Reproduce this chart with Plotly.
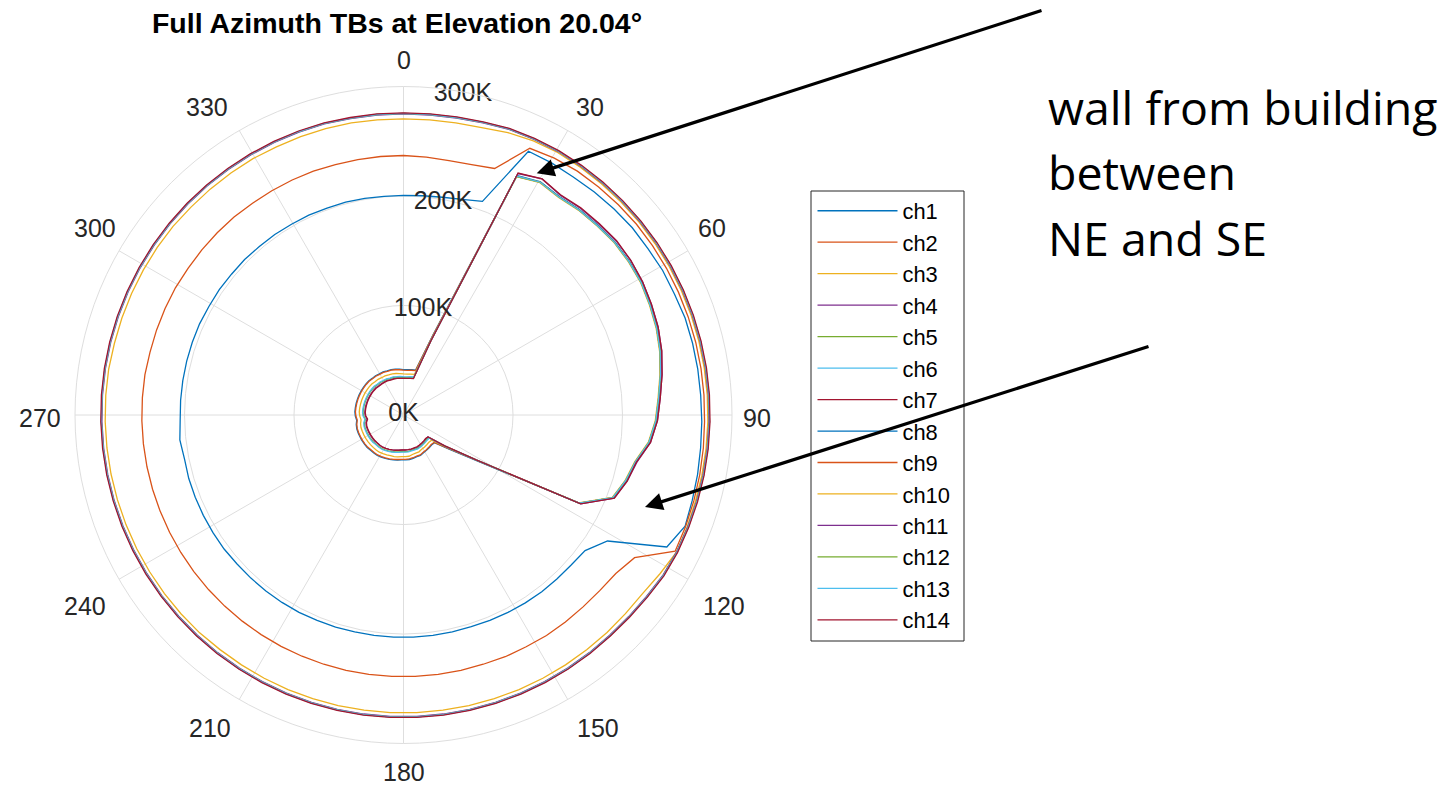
import plotly.graph_objects as go

# ---------------- data ----------------
AZIMUTH_DEG = [0.0, 5.07, 10.14, 15.21, 20.28, 25.35, 30.42, 35.49, 40.56, 45.63,
               50.70, 55.77, 60.85, 65.92, 70.99, 76.06, 81.13, 86.20, 91.27, 96.34,
               101.41, 106.48, 111.55, 116.62, 121.69, 126.76, 131.83, 136.90, 141.97, 147.04,
               152.11, 157.18, 162.25, 167.32, 172.39, 177.46, 182.54, 187.61, 192.68, 197.75,
               202.82, 207.89, 212.96, 218.03, 223.10, 228.17, 233.24, 238.31, 243.38, 248.45,
               253.52, 258.59, 263.66, 268.73, 273.80, 278.87, 283.94, 289.01, 294.08, 299.15,
               304.23, 309.30, 314.37, 319.44, 324.51, 329.58, 334.65, 339.72, 344.79, 349.86,
               354.93, 360.0]

CHANNEL_NAMES = ["ch1", "ch2", "ch3", "ch4", "ch5", "ch6", "ch7",
                 "ch8", "ch9", "ch10", "ch11", "ch12", "ch13", "ch14"]

TB_CH1 = [41.5, 41.5, 42, 42.5, 78, 242, 247, 245, 247, 248,
          249.5, 249.5, 249, 247, 245, 242, 238, 234, 231, 226,
          216.5, 212, 206, 180, 81, 52, 38, 37.5, 38, 38.5,
          39, 40, 40, 40.5, 41, 41, 41, 41.5, 42, 42.5,
          43, 43.5, 44, 44, 44, 44.5, 44.5, 44.5, 44.5, 44.5,
          44.5, 44, 43, 44, 44.5, 44.5, 44.5, 44.5, 44.5, 44.5,
          44.5, 44.5, 44.5, 44, 44, 43.5, 43.5, 43, 43, 42.5,
          42, 41.5]
TB_CH2 = [41, 41, 41.5, 42, 77, 241.5, 246.5, 244.5, 246.5, 247.5,
          249, 249, 248.5, 246.5, 244.5, 241.5, 237.5, 233.5, 230.5, 225.5,
          216, 211.5, 205.5, 179.5, 80, 51, 37.5, 37, 37.5, 38,
          38.5, 39.5, 39.5, 40, 40.5, 40.5, 40.5, 41, 41.5, 42,
          42.5, 43, 43.5, 43.5, 43.5, 44, 44, 44, 44, 44,
          44, 43.5, 42.5, 43.5, 44, 44, 44, 44, 44, 44,
          44, 44, 44, 43.5, 43.5, 43, 43, 42.5, 42.5, 42,
          41.5, 41]
TB_CH3 = [37.5, 37.5, 38, 38.5, 75, 241, 246, 244, 246, 247,
          248.5, 248.5, 248, 246, 244, 241, 237, 233, 230, 225,
          215.5, 211, 205, 179, 78, 49, 34.5, 34, 34.5, 35,
          35.5, 36.5, 36.5, 37, 38, 38, 38, 38.5, 39, 39,
          39.5, 40, 40.5, 40.5, 40.5, 40.5, 40.5, 40.5, 40.5, 40.5,
          40.5, 40, 39, 40, 40.5, 40.5, 40.5, 40.5, 40.5, 40.5,
          40.5, 40.5, 40.5, 40, 40, 39.5, 39.5, 39, 39, 38.5,
          38, 37.5]
TB_CH4 = [34, 34, 34.5, 35, 72, 244, 250, 246.5, 248.5, 249.5,
          251, 251, 250, 248, 246, 243, 239, 235, 232, 227,
          217.5, 213, 207, 181, 78, 47, 30, 30, 30.5, 31,
          31.5, 32, 32, 32, 32, 32, 32, 32.5, 33, 33.5,
          34, 34.5, 35, 35, 35, 35.5, 35.5, 35.5, 35.5, 35.5,
          35.5, 35, 33.5, 35, 35.5, 35.5, 35.5, 35.5, 35.5, 35.5,
          35.5, 35.5, 35.5, 35, 35, 35, 35, 34.5, 34.5, 34.5,
          34, 34]
TB_CH5 = [34.5, 34.5, 35, 35.5, 73, 241, 246.5, 244.5, 246.5, 247.5,
          249, 249, 248.5, 246.5, 244.5, 241.5, 237.5, 233.5, 230.5, 225.5,
          216, 211.5, 205.5, 179.5, 79, 48, 31, 31, 31.5, 32,
          32.5, 33, 33, 33, 33.5, 33.5, 33.5, 34, 34.5, 35,
          35.5, 36, 36.5, 36.5, 36.5, 37, 37, 37, 37, 37,
          37, 36.5, 35, 36.5, 37, 37, 37, 37, 37, 37,
          37, 37, 37, 36.5, 36.5, 36, 36, 35.5, 35.5, 35,
          35, 34.5]
TB_CH6 = [35, 35, 35.5, 36, 73, 241.5, 246.5, 244.5, 246.5, 247.5,
          249, 249, 248.5, 246.5, 244.5, 241.5, 237.5, 233.5, 230.5, 225.5,
          216, 211.5, 205.5, 179.5, 79, 48.5, 31.5, 31.5, 32, 32.5,
          33, 33.5, 33.5, 33.5, 34, 34, 34, 34.5, 35, 35.5,
          36, 36.5, 37, 37, 37, 37.5, 37.5, 37.5, 37.5, 37.5,
          37.5, 37, 35.5, 37, 37.5, 37.5, 37.5, 37.5, 37.5, 37.5,
          37.5, 37.5, 37.5, 37, 37, 36.5, 36.5, 36, 36, 35.5,
          35.5, 35]
TB_CH7 = [33.5, 33.5, 34, 34.5, 72, 244.5, 250, 247, 249, 250,
          251.5, 251, 250, 248, 246, 243, 239, 235, 232, 227,
          217, 213, 207, 181, 78, 47, 30, 29.5, 30, 30.5,
          31, 31.5, 31.5, 32, 32, 32, 32, 32.5, 33, 33.5,
          34, 34.5, 35, 35, 35, 35, 35, 35, 35, 35,
          35, 34.5, 33, 34.5, 35, 35, 35, 35, 35, 35,
          35, 35, 35, 34.5, 34.5, 34.5, 34.5, 34, 34, 34,
          33.5, 33.5]
TB_CH8 = [200.5, 201, 202, 204, 208, 266.5, 267, 267, 268, 269,
          270, 270, 271, 271, 272, 272, 272, 272, 272.5, 273,
          274, 275, 276.5, 269, 219, 207, 205.5, 205, 205, 204.5,
          204, 203.5, 203, 203, 203, 203, 203, 203, 203, 203.5,
          203.5, 204, 204, 204, 204, 204, 204.5, 204.5, 204.5, 204.5,
          204.5, 204, 205.5, 204, 204, 204, 204, 204, 204, 203.5,
          203.5, 203, 203, 202.5, 202.5, 202, 202, 201.5, 201.5, 201,
          200.5, 200.5]
TB_CH9 = [237, 236.5, 236, 237, 240, 269.5, 272, 273.5, 274, 274.5,
          275, 275, 275, 275, 275, 275, 275, 275, 275, 275.5,
          276, 276.5, 277, 277.5, 248, 242, 240.5, 240, 240, 240,
          239.5, 239.5, 239, 239, 239, 239, 239, 239, 239, 239,
          239, 239, 239, 239, 239, 239, 239, 239, 239, 239,
          239, 239, 239, 239, 239, 239, 238.5, 238.5, 238.5, 238.5,
          238, 238, 238, 238, 237.5, 237.5, 237.5, 237.5, 237, 237,
          237, 237]
TB_CH10 = [270.5, 270.5, 271, 272, 275, 277, 278, 278, 278, 278,
           278, 278, 278, 278, 278, 278, 278, 278, 278, 278,
           278, 278, 278.5, 279, 275.5, 272.5, 272, 272, 272, 272,
           272, 272, 272, 272, 272, 272, 272, 272, 272, 272,
           272, 272, 272, 272, 272.5, 272.5, 272.5, 272.5, 272.5, 272.5,
           272.5, 272.5, 272.5, 272.5, 272.5, 272.5, 272, 272, 272, 272,
           272, 272, 271.5, 271.5, 271.5, 271.5, 271, 271, 271, 271,
           270.5, 270.5]
TB_CH11 = [275, 275, 275.5, 276.5, 278, 278.5, 279, 279, 279, 279,
           279, 279, 279, 279, 279, 279, 279, 279, 279, 279,
           279, 279, 279, 279, 278.5, 277, 276, 275.5, 275.5, 275.5,
           275.5, 275.5, 275.5, 275.5, 275.5, 275.5, 275.5, 275.5, 275.5, 275.5,
           275.5, 275.5, 275.5, 275.5, 275.5, 275.5, 275.5, 275.5, 275.5, 275.5,
           275.5, 275.5, 275.5, 275.5, 275.5, 275.5, 275.5, 275.5, 275.5, 275.5,
           275.5, 275.5, 275.5, 275.5, 275.5, 275.5, 275.5, 275.5, 275.5, 275,
           275, 275]
TB_CH12 = [275.5, 275.5, 276, 277, 278.5, 279, 279.5, 279.5, 279.5, 279.5,
           279.5, 279.5, 279.5, 279.5, 279.5, 279.5, 279.5, 279.5, 279.5, 279.5,
           279.5, 279.5, 279.5, 279.5, 279, 277.5, 276.5, 276, 276, 276,
           276, 276, 276, 276, 276, 276, 276, 276, 276, 276,
           276, 276, 276, 276, 276, 276, 276, 276, 276, 276,
           276, 276, 276, 276, 276, 276, 276, 276, 276, 276,
           276, 276, 276, 276, 276, 276, 276, 276, 276, 275.5,
           275.5, 275.5]
TB_CH13 = [275.5, 275.5, 276, 277, 278.5, 279, 279.5, 279.5, 279.5, 279.5,
           279.5, 279.5, 279.5, 279.5, 279.5, 279.5, 279.5, 279.5, 279.5, 279.5,
           279.5, 279.5, 279.5, 279.5, 279, 277.5, 276.5, 276, 276, 276,
           276, 276, 276, 276, 276, 276, 276, 276, 276, 276,
           276, 276, 276, 276, 276, 276, 276, 276, 276, 276,
           276, 276, 276, 276, 276, 276, 276, 276, 276, 276,
           276, 276, 276, 276, 276, 276, 276, 276, 276, 275.5,
           275.5, 275.5]
TB_CH14 = [276, 276, 276.5, 277.5, 279, 279.5, 280, 280, 280, 280,
           280, 280, 280, 280, 280, 280, 280, 280, 280, 280,
           280, 280, 280, 280, 279.5, 278, 277, 276.5, 276.5, 276.5,
           276.5, 276.5, 276.5, 276.5, 276.5, 276.5, 276.5, 276.5, 276.5, 276.5,
           276.5, 276.5, 276.5, 276.5, 276.5, 276.5, 276.5, 276.5, 276.5, 276.5,
           276.5, 276.5, 276.5, 276.5, 276.5, 276.5, 276.5, 276.5, 276.5, 276.5,
           276.5, 276.5, 276.5, 276.5, 276.5, 276.5, 276.5, 276.5, 276.5, 276,
           276, 276]

THETA_TICKS = [0, 30, 60, 90, 120, 150, 180, 210, 240, 270, 300, 330]
THETA_TICK_TEXT = ["0", "30", "60", "90", "120", "150", "180", "210", "240", "270", "300", "330"]
R_TICKS = [0, 100, 200, 300]
R_TICK_TEXT = ["0K", "100K", "200K", "300K"]

TITLE = "Full Azimuth TBs at Elevation 20.04°"
NOTE_LINES = ["wall from building", "between", "NE and SE"]

# ---------------- styling ----------------
MATLAB_COLORS = ["#0072BD", "#D95319", "#EDB120", "#7E2F8E", "#77AC30", "#4DBEEE", "#A2142F"]
FONT = "Liberation Sans, Arial, Helvetica, sans-serif"
GRID = "#dedede"

# page-pixel centres of the angular tick labels (MATLAB-style placement)
THETA_LABEL_PX = [(403.5, 60), (590, 107), (712, 228), (757, 418), (724, 606), (598, 728),
                  (403.5, 772), (210, 728), (85, 606), (40, 418), (95, 228), (207, 107)]

series = [TB_CH1, TB_CH2, TB_CH3, TB_CH4, TB_CH5, TB_CH6, TB_CH7,
          TB_CH8, TB_CH9, TB_CH10, TB_CH11, TB_CH12, TB_CH13, TB_CH14]
for s in series:
    assert len(s) == len(AZIMUTH_DEG), len(s)

# page has an 8px body margin: build the figure 8px smaller and shift coordinates
OFF = 8
W, H = 1452 - OFF, 786 - OFF
CX, CY, R = 403.5, 415.0, 328.5   # page pixels
RMAX = 300.0


def px(x):
    return (x - OFF) / W


def py(y):
    return 1 - (y - OFF) / H


fig = go.Figure()
for i, (name, vals) in enumerate(zip(CHANNEL_NAMES, series)):
    fig.add_trace(go.Scatterpolar(
        r=vals, theta=AZIMUTH_DEG, mode="lines", name=name,
        line=dict(color=MATLAB_COLORS[i % 7], width=1.3),
    ))

# radial tick labels (drawn through the polar scale)
fig.add_trace(go.Scatterpolar(
    r=[v - 2.5 if v > 0 else v for v in R_TICKS], theta=[10.5] * len(R_TICKS),
    mode="text", text=R_TICK_TEXT, showlegend=False, hoverinfo="skip",
    cliponaxis=False,
    textfont=dict(family=FONT, size=25, color="#262626"),
))

fig.update_layout(
    width=W, height=H, template="none",
    margin=dict(l=0, r=0, t=0, b=0),
    paper_bgcolor="white",
    font=dict(family=FONT, color="#262626"),
    title=dict(text=TITLE, x=px(397), xanchor="center", y=py(23), yanchor="middle",
               font=dict(family=FONT, size=28.5, color="black", weight="bold")),
    polar=dict(
        domain=dict(x=[px(CX - R), px(CX + R)], y=[py(CY + R), py(CY - R)]),
        bgcolor="white",
        angularaxis=dict(rotation=90, direction="clockwise", tickmode="array",
                         tickvals=THETA_TICKS, ticktext=THETA_TICK_TEXT,
                         showticklabels=False, ticks="",
                         showline=True, linecolor=GRID, linewidth=1,
                         gridcolor=GRID, gridwidth=1),
        radialaxis=dict(range=[0, RMAX], tickvals=R_TICKS, showticklabels=False,
                        ticks="", showline=False, gridcolor=GRID, gridwidth=1),
    ),
    legend=dict(x=px(812.5), y=py(190), xanchor="left", yanchor="top",
                bgcolor="rgba(0,0,0,0)", borderwidth=0,
                font=dict(family=FONT, size=21.9, color="black"),
                itemwidth=80, tracegroupgap=0),
    showlegend=True,
)

# angular tick labels placed around the rim (MATLAB-style)
for txt, (lx, ly) in zip(THETA_TICK_TEXT, THETA_LABEL_PX):
    fig.add_annotation(x=px(lx), y=py(ly), xref="paper", yref="paper",
                       xanchor="center", yanchor="middle", showarrow=False, text=txt,
                       font=dict(family=FONT, size=25, color="#262626"))

# legend frame
fig.add_shape(type="rect", xref="paper", yref="paper",
              x0=px(811), x1=px(964), y0=py(641), y1=py(191),
              line=dict(color="#262626", width=1), fillcolor="white", layer="below")

# arrows
for head, tail in [((536.7, 173.3), (1043, 10)), ((645, 507), (1150, 346))]:
    fig.add_annotation(x=px(head[0]), y=py(head[1]), xref="paper", yref="paper",
                       ax=tail[0] - head[0], ay=tail[1] - head[1], axref="pixel", ayref="pixel",
                       text="", showarrow=True, arrowhead=2, arrowsize=1.1,
                       arrowwidth=3.2, arrowcolor="black")

# note text
for line, yc in zip(NOTE_LINES, [107, 172, 238]):
    fig.add_annotation(x=px(1046), y=py(yc), xref="paper", yref="paper",
                       xanchor="left", yanchor="middle", showarrow=False, text=line,
                       font=dict(family="Open Sans, sans-serif", size=46.5, color="black"))

fig.write_html("out.html")
